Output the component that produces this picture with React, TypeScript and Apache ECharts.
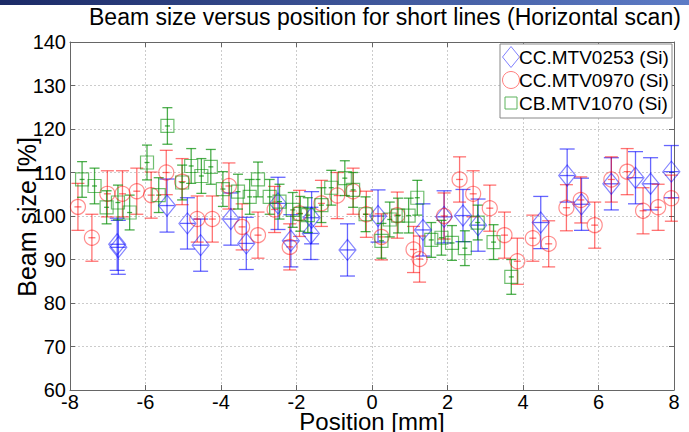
import React, { useEffect, useRef } from "react";
import * as echarts from "echarts";

const TITLE = "Beam size versus position for short lines (Horizontal scan)";
const X_NAME = "Position [mm]";
const Y_NAME = "Beam size [%]";

const SERIES_NAMES = ["CC.MTV0253 (Si)", "CC.MTV0970 (Si)", "CB.MTV1070 (Si)"];

// CC.MTV0253 (blue diamonds)
const blueX = [-6.75, -6.72, -5.43, -4.89, -4.54, -3.74, -3.33, -2.49, -2.15, -1.62, -1.6, -0.65, 0.16, 1.35, 1.91, 2.41, 2.81, 4.47, 5.17, 5.55, 6.34, 6.98, 7.38, 7.93];
const blueY = [93.5, 92.8, 102.4, 98.3, 93.3, 99.3, 93.7, 102.9, 94.3, 96.0, 99.6, 92.2, 100.0, 96.8, 99.8, 100.1, 97.9, 98.5, 109.3, 102.7, 107.4, 108.8, 107.4, 110.2];
const blueErr = [6, 6.2, 6.1, 5.9, 6, 6, 6, 6, 6, 6, 6, 6, 6, 6, 6, 6, 6, 6, 6.1, 6, 6, 6, 6, 6];

// CC.MTV0970 (red circles)
const redX = [-7.79, -7.42, -7.01, -6.61, -6.23, -5.85, -5.45, -5.03, -4.63, -4.23, -3.79, -3.44, -3.02, -2.58, -2.18, -1.92, -1.34, -0.92, -0.5, -0.15, 0.25, 0.67, 1.1, 1.26, 1.91, 2.32, 2.68, 3.12, 3.51, 3.85, 4.26, 4.68, 5.15, 5.53, 5.9, 6.34, 6.76, 7.18, 7.58, 7.93];
const redY = [102.1, 95.0, 105.1, 105.1, 105.7, 104.8, 110.0, 107.9, 99.3, 99.3, 106.9, 97.5, 95.6, 101.5, 92.9, 100.6, 102.9, 104.7, 105.7, 100.4, 95.2, 100.2, 92.3, 90.1, 100.0, 108.4, 105.1, 101.8, 95.6, 89.6, 94.9, 93.6, 101.9, 103.7, 97.9, 108.4, 110.2, 101.2, 102.0, 104.1];
const redErr = [5.4, 5.4, 5.3, 5.3, 5.3, 5.3, 5.1, 5.3, 5.3, 5.3, 5.3, 5.3, 5.3, 5.3, 5.3, 5.3, 5.3, 5.3, 5.3, 5.3, 5.3, 5.3, 5.3, 5.3, 5.3, 5.2, 5.3, 5.3, 5.3, 5.3, 5.3, 5.3, 5.3, 5.3, 5.3, 5.2, 5.3, 5.3, 5.3, 5.3];

// CB.MTV1070 (green squares)
const greenX = [-7.68, -7.35, -7.03, -6.73, -6.42, -5.96, -5.65, -5.42, -5.03, -4.79, -4.52, -4.27, -3.95, -3.55, -3.24, -3.02, -2.71, -2.45, -2.1, -1.9, -1.7, -1.34, -1.08, -0.72, -0.5, -0.17, 0.25, 0.47, 0.69, 0.97, 1.2, 1.57, 1.84, 2.12, 2.46, 2.8, 3.22, 3.69];
const greenY = [108.4, 106.9, 102.0, 103.1, 100.8, 112.3, 104.8, 120.7, 107.7, 111.5, 109.2, 111.3, 106.2, 105.6, 104.4, 108.4, 104.4, 103.3, 101.4, 100.5, 100.2, 102.5, 106.5, 108.7, 106.0, 100.4, 94.3, 99.2, 100.1, 100.1, 104.2, 94.5, 95.0, 93.8, 92.6, 98.5, 94.0, 86.0];
const greenErr = [4.1, 4.1, 3.8, 4, 4, 4, 4, 4.2, 4, 4, 4, 4, 4, 4, 4, 4, 4, 4, 4, 4, 4, 4, 4, 4, 4, 4, 4, 4, 4, 4, 4, 4, 4, 4, 4, 4, 4, 4];

const X_TICKS = [-8, -6, -4, -2, 0, 2, 4, 6, 8];
const Y_TICKS = [60, 70, 80, 90, 100, 110, 120, 130, 140];

function zip(xs: number[], ys: number[], es: number[]) {
  return xs.map((x, i) => [x, ys[i], es[i]]);
}

function errorSeries(name: string, data: number[][], color: string, capW: number, midW: number) {
  return {
    type: "custom",
    name: name + " err",
    data,
    z: 2,
    silent: true,
    renderItem: (params: any, api: any) => {
      const x = api.value(0);
      const y = api.value(1);
      const e = api.value(2);
      const c = api.coord([x, y]);
      const top = api.coord([x, y + e]);
      const bot = api.coord([x, y - e]);
      const style = { stroke: color, lineWidth: 1.3, fill: null };
      return {
        type: "group",
        children: [
          { type: "line", shape: { x1: c[0], y1: top[1], x2: c[0], y2: bot[1] }, style },
          { type: "line", shape: { x1: c[0] - capW / 2, y1: top[1], x2: c[0] + capW / 2, y2: top[1] }, style },
          { type: "line", shape: { x1: c[0] - capW / 2, y1: bot[1], x2: c[0] + capW / 2, y2: bot[1] }, style },
          { type: "line", shape: { x1: c[0] - midW / 2, y1: c[1], x2: c[0] + midW / 2, y2: c[1] }, style },
        ],
      };
    },
  };
}

export default function App() {
  const ref = useRef<HTMLDivElement>(null);
  useEffect(() => {
    if (!ref.current) return;
    const chart = echarts.init(ref.current, null, { renderer: "svg" });
    const blue = "rgba(0,0,255,0.6)";
    const red = "rgba(255,0,0,0.55)";
    const green = "rgba(0,140,0,0.7)";
    const font = "Liberation Sans, Arial, sans-serif";
    const axisLine = { show: true, onZero: false, lineStyle: { color: "#666", width: 1 } };
    const axisTick = { show: true, inside: true, length: 5, lineStyle: { color: "#666" } };
    const split = { show: true, lineStyle: { color: "#ccc", type: [2, 2], width: 1 } };

    // legend drawn as graphic elements (box, icons, texts)
    const LX = 500, LY = 44, LW = 172, LH = 74, ROW = 23;
    const legendText = (i: number) => ({
      type: "text",
      x: 519,
      y: LY + 13 + i * ROW,
      z: 101,
      style: { text: SERIES_NAMES[i], fontSize: 19, fill: "#000", fontFamily: font, verticalAlign: "middle" },
    });
    const legend = [
      { type: "rect", z: 100, shape: { x: LX, y: LY, width: LW, height: LH }, style: { fill: "#fff", stroke: "#888", lineWidth: 1 } },
      {
        type: "polygon",
        z: 101,
        shape: { points: [[511, LY + 2.5], [519.5, LY + 13], [511, LY + 23.5], [502.5, LY + 13]] },
        style: { fill: null, stroke: "#8080ff", lineWidth: 1 },
      },
      { type: "circle", z: 101, shape: { cx: 511, cy: LY + 13 + ROW, r: 8.5 }, style: { fill: null, stroke: "#ff8080", lineWidth: 1 } },
      { type: "rect", z: 101, shape: { x: 505, y: LY + 13 + 2 * ROW - 6, width: 12, height: 12 }, style: { fill: null, stroke: "#5cb35c", lineWidth: 1 } },
      legendText(0),
      legendText(1),
      legendText(2),
    ];

    const option: any = {
      animation: false,
      backgroundColor: "#fff",
      textStyle: { fontFamily: font },
      grid: { left: 70, right: 15, top: 42, bottom: 42, outerBoundsMode: "none", containLabel: false },
      graphic: [
        {
          type: "rect",
          shape: { x: 0, y: 0, width: 689, height: 5 },
          style: {
            fill: new echarts.graphic.LinearGradient(0, 0, 1, 0, [
              { offset: 0, color: "#1b2a66" },
              { offset: 1, color: "#5d7cc6" },
            ]),
          },
        },
        {
          type: "text",
          left: 89,
          top: 5,
          style: { text: TITLE, fontSize: 23, fill: "#000", fontFamily: font },
        },
        {
          type: "text",
          x: 372,
          y: 421,
          style: { text: X_NAME, fontSize: 24, fill: "#000", fontFamily: font, align: "center", verticalAlign: "middle" },
        },
        {
          type: "group",
          left: 14,
          top: 137,
          children: [
            {
              type: "text",
              rotation: Math.PI / 2,
              style: { text: Y_NAME, fontSize: 25, fill: "#000", fontFamily: font },
            },
          ],
        },
        ...legend,
      ],
      xAxis: [
        {
          type: "value",
          min: X_TICKS[0],
          max: X_TICKS[X_TICKS.length - 1],
          interval: 2,
          axisLine,
          axisTick,
          axisLabel: { fontSize: 20, color: "#000", margin: 2, fontFamily: font },
          splitLine: split,
        },
        {
          type: "value",
          position: "top",
          min: X_TICKS[0],
          max: X_TICKS[X_TICKS.length - 1],
          interval: 2,
          axisLine,
          axisTick,
          axisLabel: { show: false },
          splitLine: { show: false },
        },
      ],
      yAxis: [
        {
          type: "value",
          min: Y_TICKS[0],
          max: Y_TICKS[Y_TICKS.length - 1],
          interval: 10,
          axisLine,
          axisTick,
          axisLabel: { fontSize: 20, color: "#000", margin: 4, fontFamily: font },
          splitLine: split,
        },
        {
          type: "value",
          position: "right",
          min: Y_TICKS[0],
          max: Y_TICKS[Y_TICKS.length - 1],
          interval: 10,
          axisLine,
          axisTick,
          axisLabel: { show: false },
          splitLine: { show: false },
        },
      ],
      series: [
        errorSeries(SERIES_NAMES[0], zip(blueX, blueY, blueErr), blue, 15, 15),
        errorSeries(SERIES_NAMES[1], zip(redX, redY, redErr), red, 13, 7),
        errorSeries(SERIES_NAMES[2], zip(greenX, greenY, greenErr), green, 10, 5),
        {
          type: "scatter",
          name: SERIES_NAMES[0],
          data: zip(blueX, blueY, blueErr),
          symbol: "diamond",
          symbolSize: [17, 21],
          itemStyle: { color: "rgba(0,0,0,0)", borderColor: blue, borderWidth: 1.2 },
          z: 3,
        },
        {
          type: "scatter",
          name: SERIES_NAMES[1],
          data: zip(redX, redY, redErr),
          symbol: "circle",
          symbolSize: 15,
          itemStyle: { color: "rgba(0,0,0,0)", borderColor: red, borderWidth: 1.2 },
          z: 3,
        },
        {
          type: "scatter",
          name: SERIES_NAMES[2],
          data: zip(greenX, greenY, greenErr),
          symbol: "rect",
          symbolSize: 13,
          itemStyle: { color: "rgba(0,0,0,0)", borderColor: green, borderWidth: 1.2 },
          z: 3,
        },
      ],
    };
    chart.setOption(option);
    return () => chart.dispose();
  }, []);
  return <div ref={ref} style={{ position: "fixed", left: 0, top: 0, width: 689, height: 432 }} />;
}
